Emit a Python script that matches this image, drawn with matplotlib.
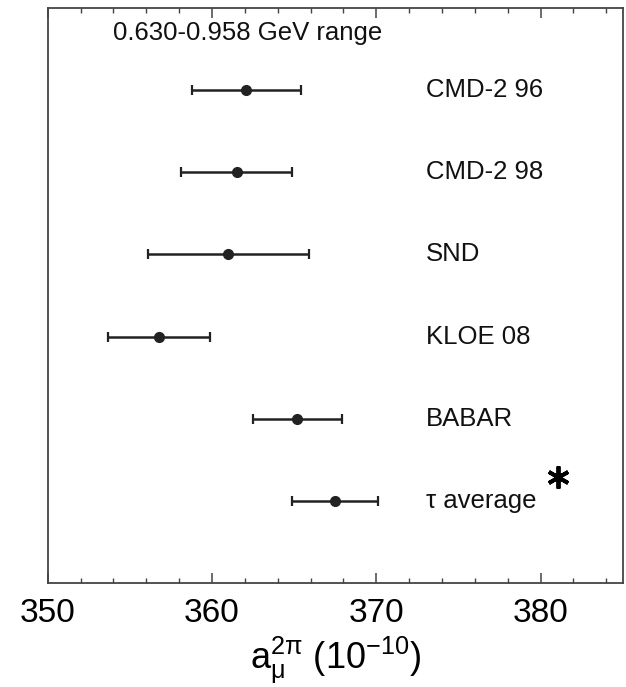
import matplotlib as mpl
mpl.use("Agg")
import matplotlib.pyplot as plt

mpl.rcParams["font.family"] = ["Liberation Sans", "DejaVu Sans"]
mpl.rcParams["mathtext.fontset"] = "custom"
mpl.rcParams["mathtext.rm"] = "Liberation Sans"
mpl.rcParams["mathtext.it"] = "Liberation Sans"

# values in units of 1e-10
experiments = ["CMD-2 96", "CMD-2 98", "SND", "KLOE 08", "BABAR", "τ average"]
central = [362.1, 361.5, 361.0, 356.8, 365.2, 367.5]
err_low = [3.3, 3.4, 4.9, 3.1, 2.7, 2.6]
err_high = [3.3, 3.4, 4.9, 3.1, 2.7, 2.6]
rows = [6, 5, 4, 3, 2, 1]

TITLE = "0.630-0.958 GeV range"
LABEL_X = 373.0
STAR_POS = (381.05, 1.29)
INK = "#222222"

fig = plt.figure(figsize=(6.26, 6.87), dpi=100)
ax = fig.add_axes([0.0762, 0.1514, 0.9185, 0.837])

ax.errorbar(central, rows, xerr=[err_low, err_high], fmt="o", color=INK,
            ecolor=INK, elinewidth=1.8, capsize=3.8, capthick=1.6,
            markersize=7)

for name, y in zip(experiments, rows):
    ax.text(LABEL_X, y, name, fontsize=18.5, va="center", ha="left", color="#111111")

ax.text(354.0, 6.69, TITLE, fontsize=18.5, va="center", ha="left", color="#111111")

# the star next to the tau average
ax.plot(*STAR_POS, marker=(6, 2, 0), markersize=16, markeredgewidth=2.8,
        color="black")

ax.set_xlim(350, 385)
ax.set_ylim(0, 7)
ax.set_yticks([])
ax.set_xticks([350, 360, 370, 380])
ax.set_xticks(range(352, 385, 2), minor=True)
ax.tick_params(axis="x", which="major", direction="in", length=7, width=1.1,
               top=True, labelsize=24, pad=11, color="#444444")
ax.tick_params(axis="x", which="minor", direction="in", length=3.5, width=1.0,
               top=True, color="#444444")
for sp in ax.spines.values():
    sp.set_linewidth(1.3)
    sp.set_color("#444444")

ax.set_xlabel(r"a$_\mathregular{μ}^\mathregular{2π}$ (10$^\mathregular{-10}$)",
              fontsize=26, labelpad=4)

fig.savefig("out.png", dpi=100)
